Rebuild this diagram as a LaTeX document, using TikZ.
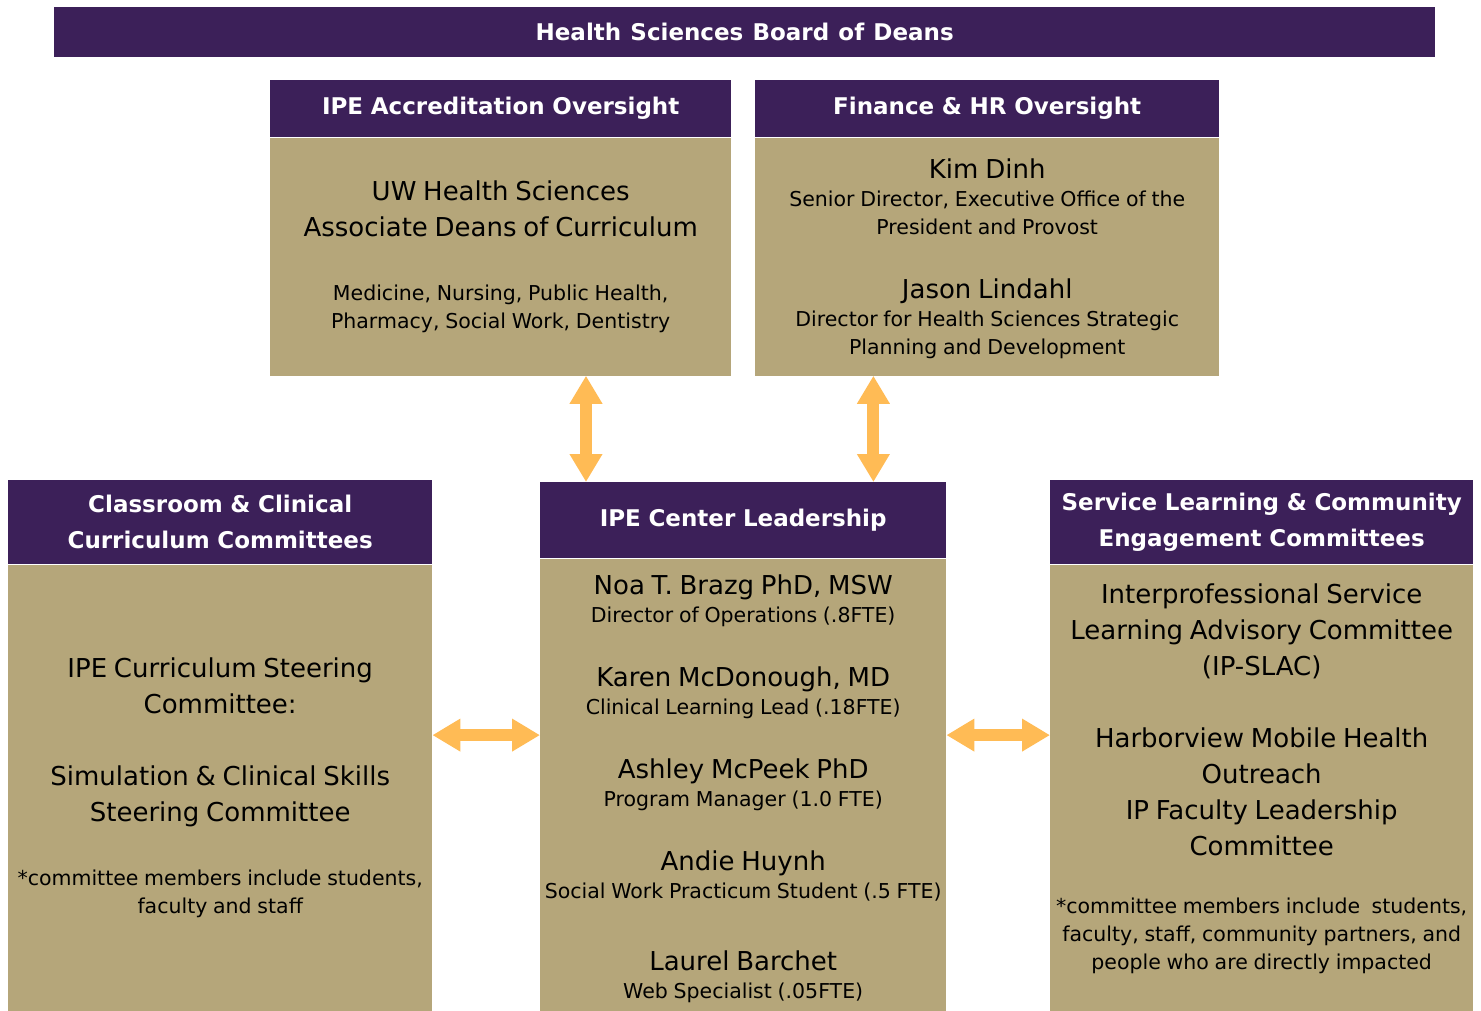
\documentclass[tikz,border=0pt]{standalone}
\usepackage{fontspec}
\setmainfont{DejaVu Sans}
\usetikzlibrary{positioning,arrows.meta,calc}

\definecolor{ipepurple}{HTML}{3C2059}
\definecolor{ipegold}{HTML}{B5A67A}
\definecolor{ipeorange}{HTML}{FFBB55}

\setlength{\parindent}{0pt}
\newcommand{\headfont}{\fontsize{23}{36}\selectfont\bfseries\spaceskip=.4em\relax}
% one centred line of a box, large (names) or small (roles)
\newcommand{\nameln}[1]{{\fontsize{26}{36}\selectfont\spaceskip=.26em\relax
  \hbox to\hsize{\hss#1\hss}\par}}
\newcommand{\roleln}[1]{{\fontsize{20.5}{28}\selectfont\spaceskip=.28em\relax
  \hbox to\hsize{\hss#1\hss}\par}}
\newcommand{\skipln}[1]{\vskip#1pt}
% extra room below the last line, kept by the rule
\newcommand{\tailln}[1]{\vskip#1pt\hrule height 0pt}

\begin{document}
\begin{tikzpicture}[x=1pt, y=-1pt,
  head/.style={rectangle, fill=ipepurple, text=white, inner sep=0pt, align=center,
    font=\headfont},
  body/.style={rectangle, fill=ipegold, inner sep=0pt},
  link/.style={{Triangle[width=31pt,length=28pt]}-{Triangle[width=31pt,length=28pt]},
    line width=12pt, draw=ipeorange},
]
\useasboundingbox (0,0) rectangle (1481,1011);

% === Board ===
\node[head, anchor=north west, minimum width=1381pt, minimum height=50pt] (board) at (54,7)
  {Health Sciences Board of Deans};

% === Accreditation oversight ===
\node[head, anchor=north west, text width=461pt, minimum height=57pt] (acc) at (270,80)
  {IPE Accreditation Oversight};
\node[body, below=0pt of acc, text width=461pt, minimum height=238pt] (accbody) {%
  \nameln{UW Health Sciences}
  \nameln{Associate Deans of Curriculum}
  \skipln{36}
  \roleln{Medicine, Nursing, Public Health,}
  \roleln{Pharmacy, Social Work, Dentistry}};

% === Finance & HR ===
\node[head, anchor=north west, text width=464pt, minimum height=57pt] (fin) at (755,80)
  {Finance \& HR Oversight};
\node[body, below=0pt of fin, text width=464pt, minimum height=238pt] (finbody) {%
  \nameln{Kim Dinh}
  \roleln{Senior Director, Executive Office of the}
  \roleln{President and Provost}
  \skipln{28}
  \nameln{Jason Lindahl}
  \roleln{Director for Health Sciences Strategic}
  \roleln{Planning and Development}
  \tailln{-4}};

% === Curriculum committees (left) ===
\node[head, anchor=north west, text width=424pt, minimum height=84pt] (cur) at (8,480)
  {Classroom \& Clinical\\Curriculum Committees};
\node[body, below=0pt of cur, text width=424pt, minimum height=447pt] (curbody) {%
  \nameln{IPE Curriculum Steering}
  \nameln{Committee:}
  \skipln{36}
  \nameln{Simulation \& Clinical Skills}
  \nameln{Steering Committee}
  \skipln{36}
  \roleln{*committee members include students,}
  \roleln{faculty and staff}};

% === Center leadership ===
\node[head, anchor=north west, text width=406pt, minimum height=76pt] (lead) at (540,482)
  {IPE Center Leadership};
\node[body, below=0pt of lead, text width=406pt, minimum height=453pt] (leadbody) {%
  \nameln{Noa T. Brazg PhD, MSW}
  \roleln{Director of Operations (.8FTE)}
  \skipln{28}
  \nameln{Karen McDonough, MD}
  \roleln{Clinical Learning Lead (.18FTE)}
  \skipln{28}
  \nameln{Ashley McPeek PhD}
  \roleln{Program Manager (1.0 FTE)}
  \skipln{28}
  \nameln{Andie Huynh}
  \roleln{Social Work Practicum Student (.5 FTE)}
  \skipln{36}
  \nameln{Laurel Barchet}
  \roleln{Web Specialist (.05FTE)}
  \tailln{-7}};

% === Service learning committees (right) ===
\node[head, anchor=north west, text width=423pt, minimum height=84pt] (srv) at (1050,480)
  {Service Learning \& Community\\Engagement Committees};
\node[body, below=0pt of srv, text width=423pt, minimum height=447pt] (srvbody) {%
  \nameln{Interprofessional Service}
  \nameln{Learning Advisory Committee}
  \nameln{(IP-SLAC)}
  \skipln{36}
  \nameln{Harborview Mobile Health}
  \nameln{Outreach}
  \nameln{IP Faculty Leadership}
  \nameln{Committee}
  \skipln{30}
  \roleln{*committee members include\ \ students,}
  \roleln{faculty, staff, community partners, and}
  \roleln{people who are directly impacted}
  \tailln{18}};

% === Links ===
\coordinate (accdown) at ([xshift=46pt]lead.north west);
\coordinate (findown) at ([xshift=-73pt]lead.north east);
\coordinate (leftmid) at ([yshift=50pt]leadbody.west);
\coordinate (rightmid) at ([yshift=50pt]leadbody.east);

\draw[link] (accdown |- accbody.south) -- (accdown);
\draw[link] (findown |- finbody.south) -- (findown);
\draw[link] (leftmid -| curbody.east) -- (leftmid);
\draw[link] (rightmid) -- (rightmid -| srvbody.west);

\end{tikzpicture}
\end{document}
